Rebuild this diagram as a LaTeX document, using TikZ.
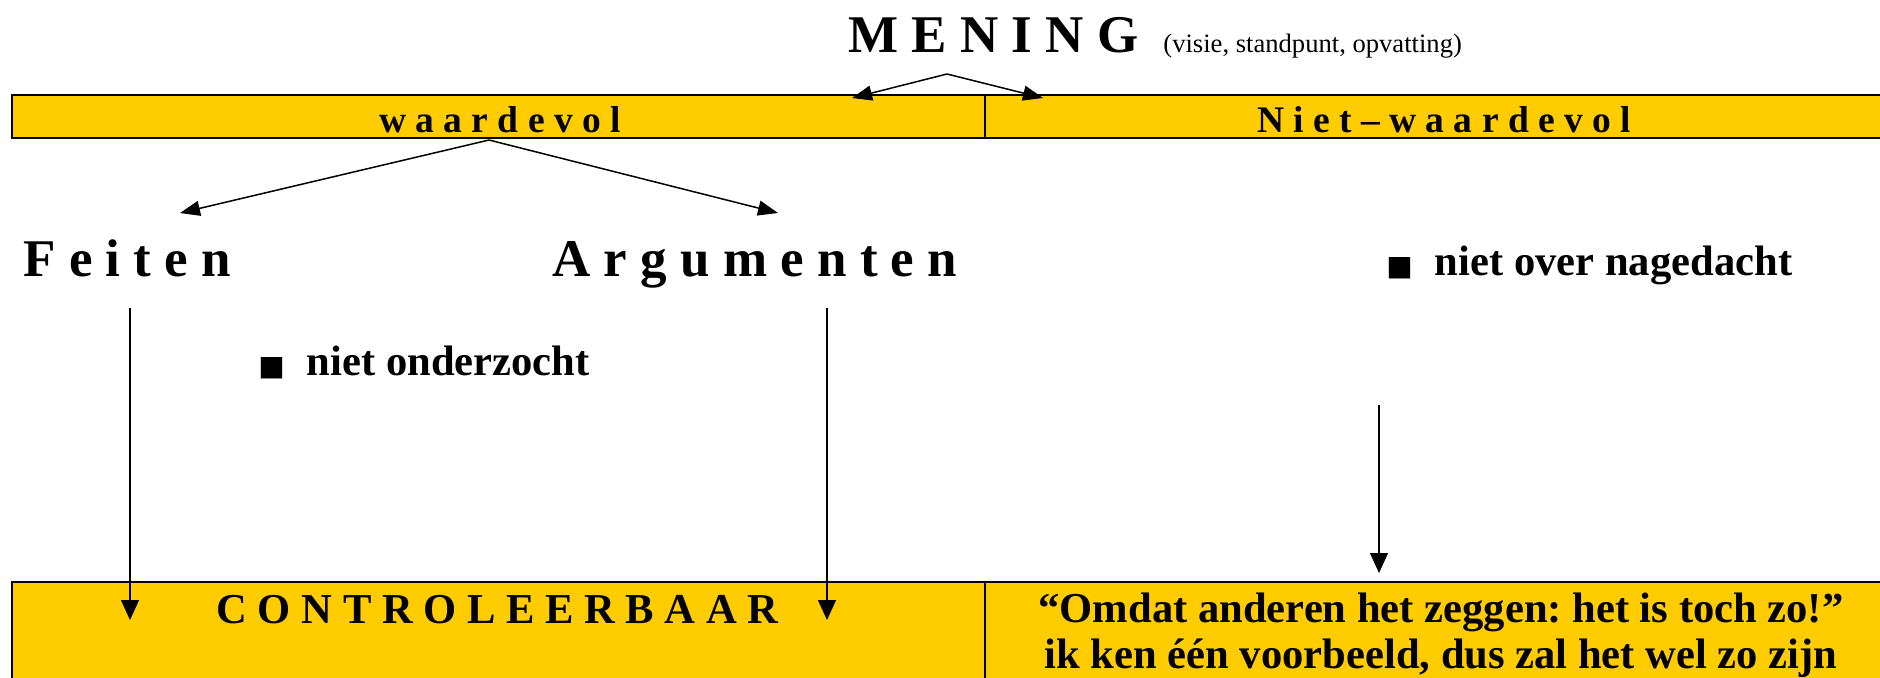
\documentclass[tikz,border=0pt]{standalone}
\usepackage{fontspec}
\setmainfont{Liberation Serif}
\newfontfamily\blokfont{DejaVu Sans}
\usetikzlibrary{arrows.meta}

\begin{document}
\frenchspacing
\begin{tikzpicture}[x=0.5pt,y=-0.5pt,
    pijl/.style={line width=0.75pt,-{Triangle[length=10pt,width=7.5pt]}},
    pijlrecht/.style={line width=0.6pt,-{Triangle[length=10pt,width=9pt]}},
    balk/.style={draw=black,line width=1pt,fill=balkgeel},
    kop/.style={inner sep=0pt,anchor=base west,font=\bfseries\fontsize{26.5pt}{30pt}\selectfont},
    vaklabel/.style={inner sep=0pt,anchor=base,font=\bfseries\fontsize{18.75pt}{22pt}\selectfont},
    tekst/.style={inner sep=0pt,anchor=base west,font=\bfseries\fontsize{21.3pt}{23.5pt}\selectfont}]

        % Define colours
        \definecolor{balkgeel}{RGB}{255,204,0} % yellow bars

        % Page size
        \clip (0,0) rectangle (1880,677);

        % Bars (run off the page on the right)
        \draw[balk] (12,95) rectangle (1900,138); % top bar
        \draw[line width=1pt] (985,95) -- (985,138);
        \draw[balk] (12,582) rectangle (1900,700); % bottom bar
        \draw[line width=1pt] (985,582) -- (985,700);

        % Title
        \node[kop] (mening) at (848,52) {M E N I N G};
        \node[inner sep=0pt,anchor=base west,font=\fontsize{13.3pt}{15pt}\selectfont] (opvatting) at (1163,52) {(visie, standpunt, opvatting)};

        % Bar labels
        \node[vaklabel] (waardevol) at (500,132) {w a a r d e v o l};
        \node[vaklabel] (nietwaardevol) at (1444,132) {N i e t -- w a a r d e v o l};

        % Second row
        \node[kop] (feiten) at (23,276) {F e i t e n};
        \node[kop] (argumenten) at (552,276) {A r g u m e n t e n};
        \node[tekst] (nagedacht) at (1386,275) {{\blokfont\fontsize{14pt}{16pt}\selectfont ■}\hspace{11pt}niet over nagedacht};
        \node[tekst] (onderzocht) at (258,375) {{\blokfont\fontsize{14pt}{16pt}\selectfont ■}\hspace{11pt}niet onderzocht};

        % Bottom bar texts
        \node[tekst] (controleerbaar) at (216,623) {C O N T R O L E E R B A A R};
        \node[inner sep=0pt,anchor=base,align=center,font=\bfseries\fontsize{21.3pt}{23pt}\selectfont] (omdat) at (1441,668) {“Omdat anderen het zeggen: het is toch zo!”\\ik ken één voorbeeld, dus zal het wel zo zijn};

        % Split points and arrow ends
        \coordinate (splitboven) at (947,74);
        \coordinate (splitonder) at (489,140);
        \draw[pijl] (splitboven) -- (852,98);
        \draw[pijl] (splitboven) -- (1043,98);
        \draw[pijl] (splitonder) -- (180,213);
        \draw[pijl] (splitonder) -- (778,213);

        % Vertical arrows
        \draw[pijlrecht] (130,308) -- (130,620);
        \draw[pijlrecht] (827,308) -- (827,620);
        \draw[pijlrecht] (1379,405) -- (1379,573);
        \end{tikzpicture}
\end{document}
